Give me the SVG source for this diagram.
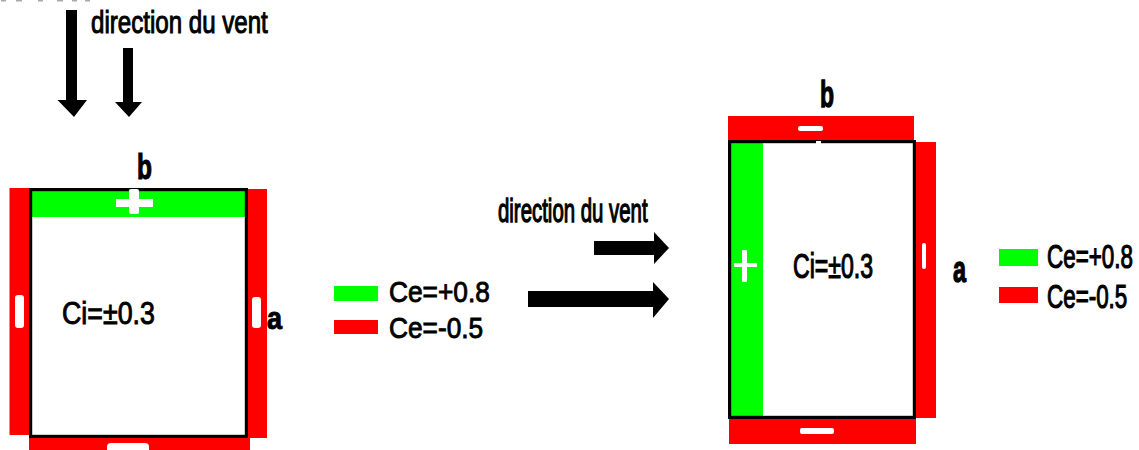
<svg xmlns="http://www.w3.org/2000/svg" width="1139" height="450" viewBox="0 0 1139 450">
<style>
.bg{fill:#fff}
.r{fill:#f00}
.g{fill:#0f0}
.w{fill:#fff}
.k{fill:#000}
.s{fill:#aaa}
.wall{fill:none;stroke:#000;stroke-width:3.2}
text{font-family:"Liberation Sans",Arial,sans-serif;fill:#000}
.t{stroke:#000;stroke-width:.8}
.h{font-weight:bold;stroke:#000;stroke-width:.8}
</style>
<rect class="bg" width="1139" height="450"/>
<g id="top-edge-marks">
<rect class="s" x="1" y="0" width="5" height="1.500"/>
<rect class="s" x="16" y="0" width="6" height="1.500"/>
<rect class="s" x="38" y="0" width="5" height="1.500"/>
<rect class="s" x="57" y="0" width="6" height="1.500"/>
<rect class="s" x="72" y="0" width="5" height="1.500"/>
<rect class="s" x="85" y="0" width="5" height="1.500"/>
</g>
<g id="connectors">
<path class="k" d="M66 10H77V100H87L74 117L57.500 100H66Z"/>
<path class="k" d="M123 48H133V102H142L129 117L115 102H123Z"/>
<path class="k" d="M594 241H654V232L669 248L654 264V255H594Z"/>
<path class="k" d="M528 291H653V282L669 299L653 318V307H528Z"/>
</g>
<g id="wind-label-left"><text class="t" transform="translate(91 33) scale(1 1.31)" font-size="24.100">direction du vent</text></g>
<g id="wind-label-right"><text class="t" transform="translate(498 222) scale(1 1.61)" font-size="20.400">direction du vent</text></g>
<g id="building-left">
<rect class="r" x="9.500" y="188" width="20" height="247"/>
<rect class="r" x="247" y="189" width="20" height="249"/>
<rect class="r" x="29" y="437" width="221" height="13"/>
<rect class="g" x="31" y="190" width="215" height="27"/>
<rect class="wall" x="30.600" y="189.600" width="215.800" height="246.800"/>
<rect class="w" x="116" y="199" width="37" height="8"/>
<rect class="w" x="129" y="189" width="10" height="25" rx="2"/>
<rect class="w" x="15" y="295" width="9" height="33" rx="3"/>
<rect class="w" x="252" y="297" width="9" height="31" rx="3"/>
<rect class="w" x="107" y="443" width="42" height="10" rx="4"/>
<text class="t" transform="translate(62 324) scale(1 1.15)" font-size="26.800">Ci=±0.3</text>
<text class="h" transform="translate(137 179) scale(1 1.45)" font-size="24.500">b</text>
<text class="h" transform="translate(267 329) scale(1 1.19)" font-size="27">a</text>
</g>
<g id="legend-left">
<rect class="g" x="334" y="286" width="44" height="15"/>
<rect class="r" x="334" y="320" width="44" height="14"/>
<text class="t" transform="translate(389 302) scale(1 1.12)" font-size="26.300">Ce=+0.8</text>
<text class="t" transform="translate(389 338) scale(1 1.12)" font-size="26.300">Ce=-0.5</text>
</g>
<g id="building-right">
<rect class="r" x="728" y="116" width="186" height="25"/>
<rect class="r" x="915" y="142" width="21" height="276"/>
<rect class="r" x="729" y="418" width="187" height="26"/>
<rect class="g" x="731" y="143" width="32" height="273"/>
<rect class="wall" x="729.600" y="141.600" width="184.800" height="275.800"/>
<rect class="w" x="798" y="126" width="25" height="5" rx="2"/>
<rect class="w" x="816" y="141" width="5" height="3"/>
<rect class="w" x="922" y="243" width="4" height="26" rx="2"/>
<rect class="w" x="734" y="263" width="23" height="4" rx="1"/>
<rect class="w" x="742" y="250" width="5" height="32" rx="1"/>
<rect class="w" x="800" y="428" width="34" height="6" rx="2"/>
<text class="t" transform="translate(793 278) scale(1 1.5)" font-size="23.100">Ci=±0.3</text>
<text class="h" transform="translate(820 107) scale(1 1.6)" font-size="23">b</text>
<text class="h" transform="translate(953 282) scale(1 1.6)" font-size="23.400">a</text>
</g>
<g id="legend-right">
<rect class="g" x="999" y="249" width="39" height="17"/>
<rect class="r" x="999" y="287" width="39" height="16"/>
<text class="t" transform="translate(1047 268) scale(1 1.5)" font-size="22.400">Ce=+0.8</text>
<text class="t" transform="translate(1047 308) scale(1 1.5)" font-size="22.400">Ce=-0.5</text>
</g>
</svg>
